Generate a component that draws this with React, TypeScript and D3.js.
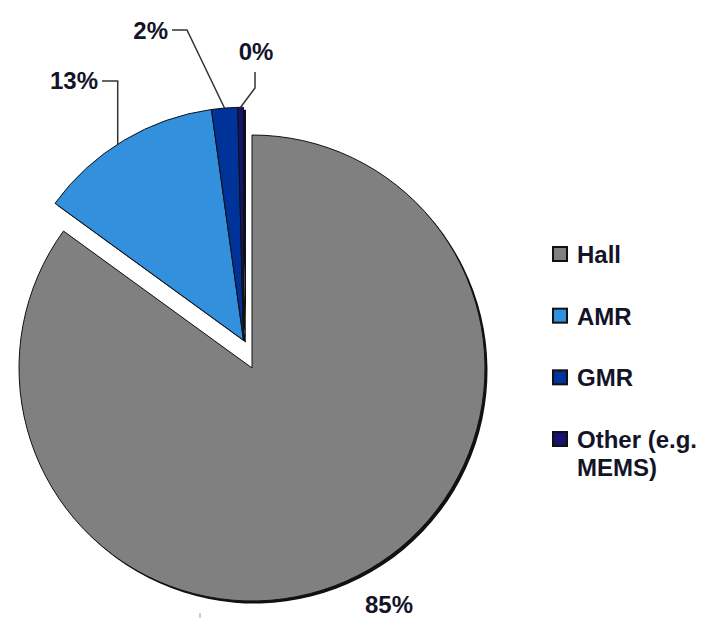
import React, { useRef, useEffect } from "react";
import * as d3 from "d3";

// market share by sensor technology
const categories = ["Hall", "AMR", "GMR", "Other (e.g. MEMS)"];
const shares = [85, 12.8, 1.8, 0.4];
const shareLabels = ["85%", "13%", "2%", "0%"];
const colors = ["#808080", "#3390dd", "#003399", "#14146e"];
const exploded = [false, true, true, true];

export default function App() {
  const ref = useRef<SVGSVGElement | null>(null);
  const width = 714, height = 618;
  const cx = 252, cy = 368, r = 233;

  useEffect(() => {
    const svg = d3.select(ref.current);
    svg.selectAll("*").remove();

    const data = categories.map((c, i) => ({ name: c, value: shares[i], i }));
    const pie = d3.pie<any>().value(d => d.value).sort(null);
    const arcs = pie(data);
    const arc = d3.arc<any>().innerRadius(0).outerRadius(r);

    // exploded slices move together up-left
    const exAng = (343 * Math.PI) / 180, exDist = 29;
    const ex = { x: Math.sin(exAng) * exDist, y: -Math.cos(exAng) * exDist };
    const off = (i: number) => (exploded[i] ? ex : { x: 0, y: 0 });

    const g = svg.append("g").attr("transform", `translate(${cx},${cy})`);

    // shadow
    g.selectAll(".shadow")
      .data(arcs)
      .join("path")
      .attr("transform", d => `translate(${off(d.data.i).x + 2.5},${off(d.data.i).y + 2.5})`)
      .attr("d", arc)
      .attr("fill", "#111");

    g.selectAll(".slice")
      .data(arcs)
      .join("path")
      .attr("transform", d => `translate(${off(d.data.i).x},${off(d.data.i).y})`)
      .attr("d", arc)
      .attr("fill", d => colors[d.data.i])
      .attr("stroke", "#111")
      .attr("stroke-width", 1)
      .attr("stroke-linejoin", "round");

    const font = "'Liberation Sans', Arial, sans-serif";

    // outer arc point of a slice (mid angle, shifted a bit for AMR)
    const edge = (d: any, shift = 0) => {
      const a = (d.startAngle + d.endAngle) / 2 + shift;
      const o = off(d.data.i);
      return [cx + Math.sin(a) * r + o.x, cy - Math.cos(a) * r + o.y];
    };

    // label layout: text anchor pos + leader route
    const labelLayout = [
      { x: 389, y: 613, anchor: "middle", shift: 0, route: null as null | ((e: number[]) => number[][]) },
      { x: 98, y: 89, anchor: "end", shift: -0.03, route: (e: number[]) => [e, [e[0], 81], [102, 81]] },
      { x: 168, y: 39, anchor: "end", shift: 0, route: (e: number[]) => [e, [187, 30], [172, 30]] },
      { x: 256, y: 60, anchor: "middle", shift: 0, route: (e: number[]) => [e, [255, 88], [255, 72]] },
    ];

    const line = d3.line();
    arcs.forEach(d => {
      const L = labelLayout[d.data.i];
      if (L.route) {
        svg.append("path")
          .attr("d", line(L.route(edge(d, L.shift)) as any))
          .attr("fill", "none")
          .attr("stroke", "#333")
          .attr("stroke-width", 1.5);
      }
      svg.append("text")
        .attr("x", L.x)
        .attr("y", L.y)
        .attr("text-anchor", L.anchor)
        .attr("font-family", font)
        .attr("font-weight", "bold")
        .attr("font-size", 24)
        .attr("fill", "#141428")
        .text(shareLabels[d.data.i]);
    });

    // stray tick below the pie
    svg.append("line")
      .attr("x1", 200).attr("x2", 200)
      .attr("y1", 613).attr("y2", 618)
      .attr("stroke", "#999");

    // legend
    const legend = svg.append("g").attr("transform", "translate(553,0)");
    const ly = d3.scalePoint().domain(categories).range([263, 448]);
    categories.forEach((c, i) => {
      const y = ly(c)!;
      legend.append("rect")
        .attr("x", 0).attr("y", y - 16)
        .attr("width", 14).attr("height", 14)
        .attr("fill", colors[i])
        .attr("stroke", "#111")
        .attr("stroke-width", 2);
      const words = c === "Other (e.g. MEMS)" ? ["Other (e.g.", "MEMS)"] : [c];
      const t = legend.append("text")
        .attr("x", 24).attr("y", y)
        .attr("font-family", font)
        .attr("font-weight", "bold")
        .attr("font-size", 24)
        .attr("fill", "#141428");
      words.forEach((w, k) => {
        t.append("tspan").attr("x", 24).attr("dy", k === 0 ? 0 : 28).text(w);
      });
    });
  }, []);

  return (
    <svg
      ref={ref}
      width={width}
      height={height}
      style={{ position: "absolute", left: 0, top: 0, background: "#fff" }}
    />
  );
}
